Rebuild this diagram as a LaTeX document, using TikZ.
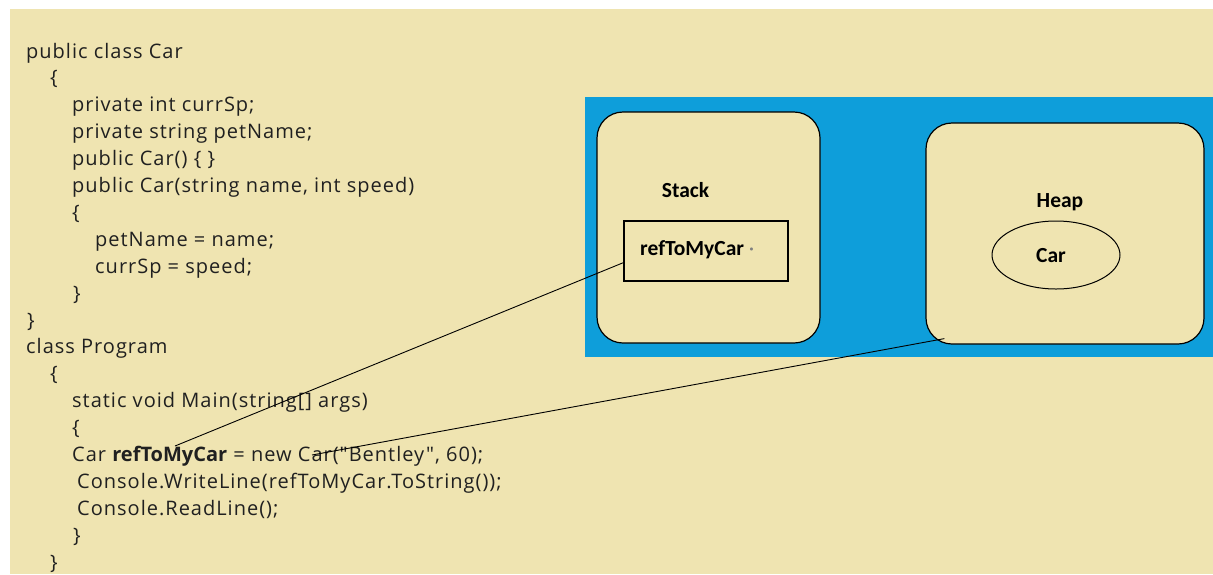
\documentclass[tikz,border=0pt]{standalone}
\usepackage{fontspec}
\usetikzlibrary{calc,shapes.geometric}
\newfontfamily\codefont[LetterSpace=5]{Open Sans}
\newfontfamily\codeboldfont{Open Sans}
\newfontfamily\labelfont{Carlito}
\definecolor{paper}{RGB}{239,228,177}
\definecolor{panel}{RGB}{14,158,218}
\definecolor{ink}{RGB}{32,32,32}

\begin{document}
\begin{tikzpicture}[x=1pt,y=-1pt,
  code/.style={anchor=base west, inner sep=0pt,
    font=\codefont\fontsize{20}{20}\selectfont, text=ink},
  region/.style={draw=black, line width=1.2pt, fill=paper,
    rounded corners=26pt, inner sep=0pt},
  title/.style={font=\labelfont\bfseries\fontsize{21.5}{21.5}\selectfont,
    inner sep=0pt, text=black},
  slot/.style={draw=black, line width=1.1pt, inner sep=0pt},
  link/.style={draw=black, line width=0.9pt}]

% canvas
\fill[white] (0,0) rectangle (1213,574);
\fill[paper] (10,9) rectangle (1213,574);
\useasboundingbox (0,0) rectangle (1213,574);

% source listing
\foreach \n/\x/\txt in {
  0/26/{public class Car},
  1/50/{\{},
  2/72/{private int currSp;},
  3/72/{private string petName;},
  4/72/{public Car() \{ \}},
  5/72/{public Car(string name, int speed)},
  6/72/{\{},
  7/95/{petName = name;},
  8/95/{currSp = speed;},
  9/73/{\}},
  10/27/{\}},
  11/26/{class Program},
  12/50/{\{},
  13/72/{static void Main(string[] args)},
  14/72/{\{},
  16/77/{Console.WriteLine(refToMyCar.ToString());},
  17/77/{Console.ReadLine();},
  18/73/{\}},
  19/50/{\}}}
  \node[code] (line\n) at (\x, 58+26.9*\n) {\txt};
\node[code] (line15) at (72, 58+26.9*15)
  {Car {\codeboldfont\bfseries refToMyCar} = new Car("Bentley", 60);};

% memory panel
\fill[panel] (585,97) rectangle (1213,357);
\node[region, minimum width=223pt, minimum height=231pt] (stack) at (708.5,227.5) {};
\node[region, minimum width=278pt, minimum height=221pt] (heap) at (1065,233.5) {};

\node[title, anchor=base] (stacklbl) at (685.5,197) {Stack};
\node[slot, minimum width=164pt, minimum height=60pt] (ref) at (706,251) {};
\node[title, anchor=base west] (reflbl) at (640,255) {refToMyCar {\mdseries\color{gray}·}};

\node[title, anchor=base] (heaplbl) at (1060,207) {Heap};
\node[slot, ellipse, line width=1pt, minimum width=128pt, minimum height=68pt] (obj) at (1056,255) {};
\node[title, anchor=base] (objlbl) at (1051,262) {Car};

% references from the code into the panel
\coordinate (refUse) at (175,446);
\coordinate (newCar) at (312,455);
\draw[link] (refUse) -- (ref.188);
\draw[link] (newCar) -- ($(heap.south west)+(19,-6)$);
\end{tikzpicture}
\end{document}
